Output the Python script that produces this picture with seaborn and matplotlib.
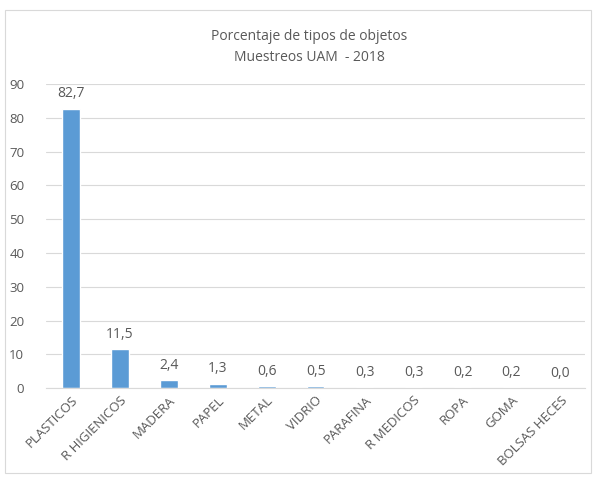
import matplotlib
matplotlib.use('Agg')
import matplotlib.pyplot as plt
import seaborn as sns
import pandas as pd
from matplotlib.patches import Rectangle

categorias = ['PLASTICOS', 'R HIGIENICOS', 'MADERA', 'PAPEL', 'METAL', 'VIDRIO',
              'PARAFINA', 'R MEDICOS', 'ROPA', 'GOMA', 'BOLSAS HECES']
porcentajes = [82.7, 11.5, 2.4, 1.3, 0.6, 0.5, 0.3, 0.3, 0.2, 0.2, 0.0]
ticks_y = [0, 10, 20, 30, 40, 50, 60, 70, 80, 90]

df = pd.DataFrame({'categoria': categorias, 'porcentaje': porcentajes})

sns.set_style('white')
plt.rcParams['font.family'] = ['Open Sans', 'DejaVu Sans']
gris = '#595959'

fig = plt.figure(figsize=(5.95, 4.78), dpi=100)
ax = fig.add_axes([0.078, 0.188, 0.905, 0.636])

sns.barplot(data=df, x='categoria', y='porcentaje', color='#5B9BD5',
            width=0.36, saturation=1, ax=ax)

ax.set_ylim(0, 90)
ax.set_yticks(ticks_y)
ax.yaxis.grid(True, color='#D9D9D9', linewidth=0.8)
ax.set_axisbelow(True)
for s in ['top', 'right', 'left']:
    ax.spines[s].set_visible(False)
ax.spines['bottom'].set_color('#D9D9D9')
ax.set_xlabel('')
ax.set_ylabel('')
ax.tick_params(axis='both', length=0, colors=gris, labelsize=9.5)
ax.tick_params(axis='y', pad=16)
ax.tick_params(axis='x', pad=4)
plt.setp(ax.get_xticklabels(), rotation=45, ha='right', rotation_mode='anchor')

for i, v in enumerate(porcentajes):
    ax.text(i, v + 2.2, f'{v:.1f}'.replace('.', ','), ha='center', va='bottom',
            fontsize=10, color=gris)

fig.text(0.52, 0.902, 'Porcentaje de tipos de objetos\nMuestreos UAM  - 2018',
         ha='center', va='center', fontsize=10, color=gris, linespacing=1.6)

fig.patches.append(Rectangle((0.009, 0.01), 0.985, 0.97, transform=fig.transFigure,
                             fill=False, edgecolor='#D9D9D9', linewidth=0.8))

fig.savefig('out.png', dpi=100)
